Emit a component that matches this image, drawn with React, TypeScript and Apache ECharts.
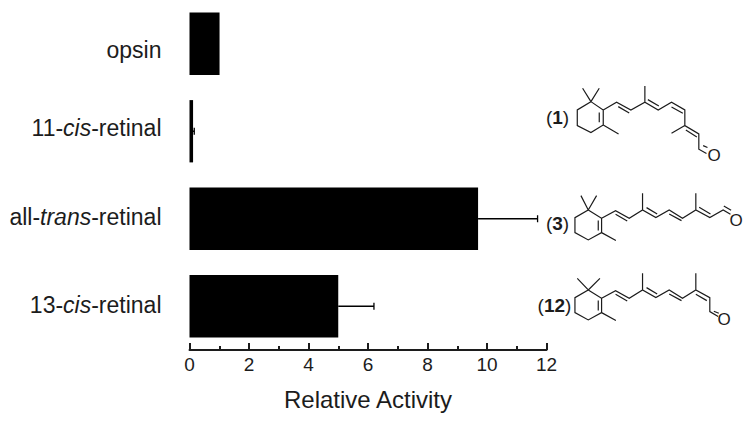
import React, { useEffect, useRef } from "react";
import * as echarts from "echarts";

const categories = ["opsin", "11-{i|cis}-retinal", "all-{i|trans}-retinal", "13-{i|cis}-retinal"];
const labelPadding = [[12, 0, 0, 0], [0, 0, 6, 0], [0, 0, 3, 0], [0, 0, 2, 0]];
const activity = [1.01, 0.12, 9.7, 5.0];
const errors = [0, 0.04, 2.0, 1.2];
const xTicks = { min: 0, max: 12, interval: 2 };

const FONT = "'Liberation Sans', Arial, sans-serif";
const INK = "#1c1c1c";

const RING =
  "M213 125L250 150L250 195L213 218L172 197L172 150Z M238 158L238 187 M213 125L188 85 M213 125L238 85 M250 195L296 222 ";
const MOL1 =
  RING +
  "M250 150L290 127L333 150L375 127L415 150L455 127L495 150L495 197L537 222L537 268L560 281 " +
  "M295 140L328 159 M384 119L417 138 M455 141L489 160 M375 127L375 78 M495 197L455 220 M498 210L531 231 M550 257L563 263";
const RING_B =
  "M205 120L245 145L245 188L205 210L165 188L165 143Z M235 152L235 182 M245 188L288 212 ";
const MOL3 =
  RING_B +
  "M205 120L183 77 M205 120L230 77 " +
  "M245 145L287 122L328 145L368 120L408 143L448 120L488 145L528 120L570 143L610 120L632 133 " +
  "M287 133L322 153 M380 113L412 132 M448 132L485 152 M538 112L572 132 M368 120L368 70 M528 120L528 70 M612 108L634 121";
const MOL12 =
  RING_B +
  "M205 120L172 85 M205 120L240 85 " +
  "M245 145L287 122L328 145L368 120L408 143L448 120L488 145L528 120L570 143L570 185L595 200 " +
  "M287 133L322 153 M380 113L412 132 M448 132L485 152 M528 133L561 152 M368 120L368 70 M528 120L528 70 M582 184L597 190";

echarts.graphic.registerShape("mol1", echarts.graphic.extendPath(MOL1, {}));
echarts.graphic.registerShape("mol3", echarts.graphic.extendPath(MOL3, {}));
echarts.graphic.registerShape("mol12", echarts.graphic.extendPath(MOL12, {}));

const molecule = (type: string, x: number, y: number) => ({
  type,
  x,
  y,
  scaleX: 1 / 3,
  scaleY: 1 / 3,
  style: { fill: "none", stroke: INK, lineWidth: 3.6 },
});

const molText = (text: string, x: number, y: number) => ({
  type: "text",
  x,
  y,
  style: {
    text,
    fill: INK,
    font: `17px ${FONT}`,
    textAlign: "center",
    textVerticalAlign: "middle",
  },
});

const molLabel = (num: string, x: number, y: number) => ({
  type: "text",
  x,
  y,
  style: {
    text: `({b|${num}})`,
    fill: INK,
    font: `19px ${FONT}`,
    textAlign: "center",
    textVerticalAlign: "middle",
    rich: { b: { fontWeight: "bold", fontSize: 19, fontFamily: FONT, fill: INK, color: INK } },
  },
});

export default function App() {
  const ref = useRef<HTMLDivElement>(null);
  useEffect(() => {
    const chart = echarts.init(ref.current!, undefined, { renderer: "svg" });
    chart.setOption({
      animation: false,
      backgroundColor: "#fff",
      grid: { left: 189.5, right: 204.5, top: -2.4, bottom: 73 },
      xAxis: {
        type: "value",
        min: xTicks.min,
        max: xTicks.max,
        interval: xTicks.interval,
        name: "Relative Activity",
        nameLocation: "middle",
        nameGap: 37,
        nameTextStyle: { fontFamily: FONT, fontSize: 24, color: INK },
        splitLine: { show: false },
        axisLine: { show: true, lineStyle: { color: INK, width: 2 } },
        axisTick: { show: true, inside: true, length: 7, lineStyle: { color: INK, width: 2 } },
        minorTick: { show: true, splitNumber: 2, length: 4, lineStyle: { color: INK, width: 2 } },
        axisLabel: { fontFamily: FONT, fontSize: 19, color: INK, margin: 5 },
      },
      yAxis: {
        type: "category",
        inverse: true,
        data: categories.map((value, i) => ({ value, textStyle: { padding: labelPadding[i] } })),
        axisLine: { show: false },
        axisTick: { show: false },
        axisLabel: {
          fontFamily: FONT,
          fontSize: 23,
          color: INK,
          margin: 28,
          rich: { i: { fontFamily: FONT, fontSize: 23, fontStyle: "italic", color: INK } },
        },
      },
      series: [
        {
          type: "bar",
          data: activity,
          barWidth: 62.3,
          itemStyle: { color: "#000" },
          silent: true,
        },
        {
          type: "custom",
          silent: true,
          data: activity.map((v, i) => [v, i, errors[i]]),
          encode: { x: 0, y: 1 },
          renderItem: (_: any, api: any) => {
            const err = api.value(2);
            if (!err) return null;
            const a = api.coord([api.value(0), api.value(1)]);
            const b = api.coord([api.value(0) + err, api.value(1)]);
            const style = { stroke: "#000", lineWidth: 1.3, fill: "none" };
            return {
              type: "group",
              children: [
                { type: "line", shape: { x1: a[0], y1: a[1], x2: b[0], y2: b[1] }, style },
                { type: "line", shape: { x1: b[0], y1: b[1] - 3.5, x2: b[0], y2: b[1] + 3.5 }, style },
              ],
            };
          },
        },
      ],
      graphic: [
        molecule("mol1", 520, 60),
        molecule("mol3", 520, 170),
        molecule("mol12", 520, 250),
        molText("O", 714, 155.5),
        molText("O", 736, 220),
        molText("O", 724, 319.5),
        molLabel("1", 557.5, 117),
        molLabel("3", 557.5, 223),
        molLabel("12", 554.5, 305),
      ],
    });
    return () => chart.dispose();
  }, []);
  return <div ref={ref} style={{ position: "fixed", left: 0, top: 0, width: 751, height: 423 }} />;
}
